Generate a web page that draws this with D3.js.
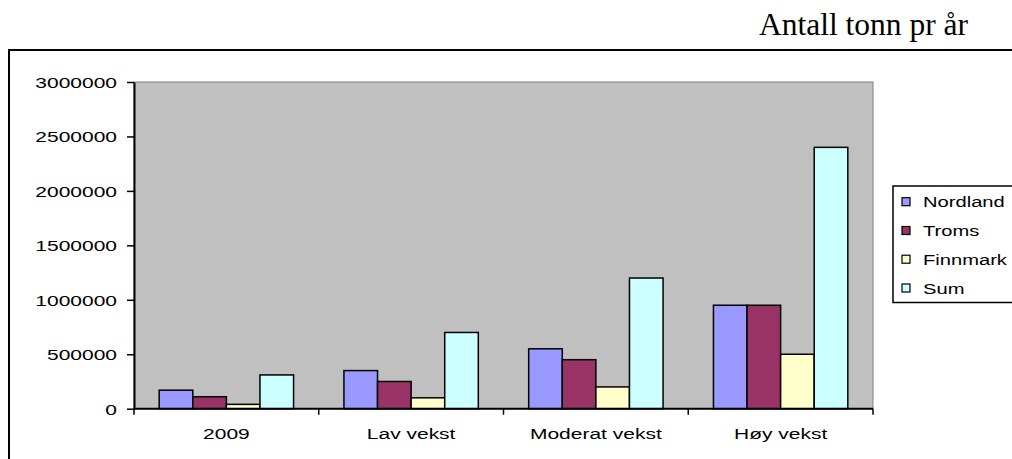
<!DOCTYPE html>
<html>
<head>
<meta charset="utf-8">
<script src="https://cdn.jsdelivr.net/npm/d3@7"></script>
<style>
  html, body { margin: 0; padding: 0; background: #fff; }
  svg { display: block; }
  text { font-family: "Liberation Sans", Arial, sans-serif; }
</style>
</head>
<body>
<svg id="chart" width="1012" height="459"></svg>
<script>
const categories = ["2009", "Lav vekst", "Moderat vekst", "Høy vekst"];
const seriesNames = ["Nordland", "Troms", "Finnmark", "Sum"];
const nordland = [170000, 350000, 550000, 950000];
const troms = [110000, 250000, 450000, 950000];
const finnmark = [40000, 100000, 200000, 500000];
const sum = [310000, 700000, 1200000, 2400000];
const seriesColors = ["#9999FF", "#993366", "#FFFFCC", "#CCFFFF"];
const yTicks = [0, 500000, 1000000, 1500000, 2000000, 2500000, 3000000];
const titleText = "Antall tonn pr år";

const seriesValues = [nordland, troms, finnmark, sum];
const svg = d3.select("#chart");
const SX = 1.4; // horizontal stretch of chart text
const FS = 15;

// Chart area border
svg.append("rect").attr("x", 9).attr("y", 50).attr("width", 1020).attr("height", 430)
  .attr("fill", "#fff").attr("stroke", "#000").attr("stroke-width", 2);

// Title
svg.append("text").attr("x", 759).attr("y", 35)
  .style("font-family", "'Liberation Serif', 'Times New Roman', serif")
  .style("font-size", "31.5px").attr("fill", "#000").text(titleText);

const plot = { left: 134, right: 873, top: 82, bottom: 408.7 };

const x = d3.scaleBand().domain(categories).range([plot.left, plot.right]).padding(0);
const y = d3.scaleLinear().domain([0, 3000000]).range([plot.bottom, plot.top]);

// Plot area
svg.append("rect").attr("x", plot.left).attr("y", plot.top)
  .attr("width", plot.right - plot.left).attr("height", plot.bottom - plot.top)
  .attr("fill", "#C0C0C0").attr("stroke", "#808080").attr("stroke-width", 1);

// Bars
const bw = x.bandwidth() / 5.5;
const inner = d3.scaleBand().domain(seriesNames).range([0.75 * bw, 4.75 * bw]).padding(0);
seriesNames.forEach((s, si) => {
  svg.append("g").selectAll("rect").data(categories).join("rect")
    .attr("x", c => x(c) + inner(s))
    .attr("y", (c, i) => y(seriesValues[si][i]))
    .attr("width", inner.bandwidth())
    .attr("height", (c, i) => y(0) - y(seriesValues[si][i]))
    .attr("fill", seriesColors[si])
    .attr("stroke", "#000").attr("stroke-width", 1.5);
});

// Y axis
const yAxis = svg.append("g").attr("transform", `translate(${plot.left},0)`)
  .call(d3.axisLeft(y).tickValues(yTicks).tickSize(7).tickSizeOuter(0).tickFormat(d3.format("d")));
yAxis.select(".domain").attr("stroke", "#000").attr("stroke-width", 2);
yAxis.selectAll(".tick line").attr("stroke", "#000").attr("stroke-width", 1.5);
yAxis.selectAll(".tick text")
  .attr("x", 0).attr("dy", "0.36em")
  .attr("transform", `translate(-17,0) scale(${SX},1)`)
  .style("font-size", FS + "px").attr("fill", "#000");

// X axis
const xAxisG = svg.append("g").attr("transform", `translate(0,${plot.bottom})`);
xAxisG.append("line").attr("x1", plot.left).attr("x2", plot.right)
  .attr("stroke", "#000").attr("stroke-width", 2);
const boundaries = categories.map(c => x(c)).concat([x.range()[1]]);
xAxisG.selectAll("line.tk").data(boundaries).join("line").attr("class", "tk")
  .attr("x1", d => d).attr("x2", d => d).attr("y1", 0).attr("y2", 6)
  .attr("stroke", "#000").attr("stroke-width", 1.5);
xAxisG.selectAll("text").data(categories).join("text")
  .attr("text-anchor", "middle")
  .attr("transform", c => `translate(${x(c) + x.bandwidth() / 2},30.5) scale(${SX},1)`)
  .style("font-size", FS + "px").attr("fill", "#000").text(c => c);

// Legend
const lg = svg.append("g");
lg.append("rect").attr("x", 893).attr("y", 186).attr("width", 140).attr("height", 116.5)
  .attr("fill", "#fff").attr("stroke", "#000").attr("stroke-width", 1.5);
const rowY = [201.7, 230.5, 259.2, 288];
seriesNames.forEach((s, i) => {
  lg.append("rect").attr("x", 902).attr("y", rowY[i] - 4).attr("width", 8).attr("height", 8)
    .attr("fill", seriesColors[i]).attr("stroke", "#000").attr("stroke-width", 1.2);
  lg.append("text").attr("dy", "0.36em")
    .attr("transform", `translate(923,${rowY[i]}) scale(1.3,1)`)
    .style("font-size", "15.5px").attr("fill", "#000").text(s);
});
</script>
</body>
</html>
